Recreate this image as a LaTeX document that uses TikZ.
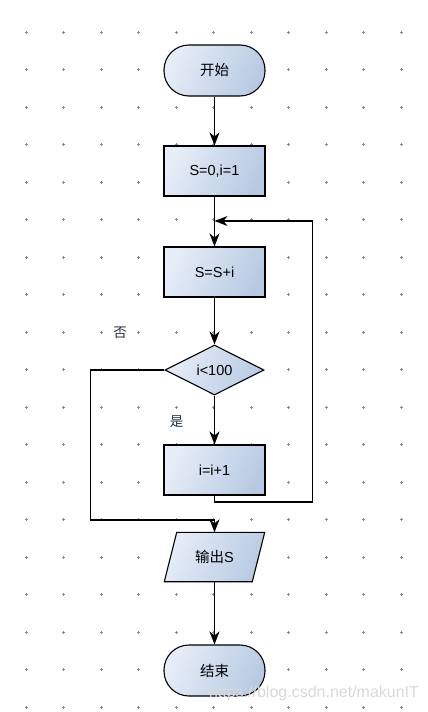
\documentclass[tikz,border=0pt]{standalone}
\usepackage{fontspec}
\setmainfont{Liberation Sans}
\newfontfamily\cjk{Noto Sans CJK SC}
\usetikzlibrary{arrows.meta,shapes.geometric}
\definecolor{gl}{HTML}{E6EDF7}
\definecolor{gd}{HTML}{B8CAE3}
\definecolor{dotc}{HTML}{8A8A8A}
\definecolor{lbl}{HTML}{203040}
\begin{document}
\begin{tikzpicture}[x=1pt,y=-1pt,
  shfill/.style={top color=gl, bottom color=gd, shading angle=65},
  procbox/.style={draw=black, line width=1.1pt, shfill, minimum width=101pt, minimum height=50pt, inner sep=0pt, font=\fontsize{14.5}{16}\selectfont},
  termbox/.style={procbox, minimum height=51pt, rounded corners=25pt},
  decbox/.style={diamond, draw=black, line width=1.1pt, shfill, aspect=2, minimum width=99pt, minimum height=50pt, inner sep=0pt, font=\fontsize{14.5}{16}\selectfont},
  ghost/.style={minimum width=100pt, minimum height=49pt, inner sep=0pt, font=\fontsize{14.5}{16}\selectfont},
  arr/.style={line width=1.1pt, -{Stealth[length=13pt,width=10pt,inset=4pt]}},
  lab/.style={text=lbl, font=\cjk\fontsize{13.5}{15}\selectfont},
  gridmark/.style={draw=dotc, line width=0.8pt}
]
\useasboundingbox (0,0) rectangle (428,712);
\fill[white] (0,0) rectangle (428,712);
% grid marks
\foreach \i in {0,...,10} {
  \foreach \j in {0,...,18} {
    \draw[gridmark] (26.3+37.5*\i-1.6, 32.3+37.5*\j) -- ++(3.2,0)
                    (26.3+37.5*\i, 32.3+37.5*\j-1.6) -- ++(0,3.2);
  }
}
% nodes
\node[termbox] (start) at (214.5,70.5) {\cjk 开始};
\node[procbox] (init) at (214.5,171) {S=0,i=1};
\node[procbox] (acc) at (214.5,272) {S=S+i};
\node[decbox] (dec) at (214.5,370) {i<100};
\node[procbox] (inc) at (214.5,470) {i=i+1};
\node[ghost] (out) at (214.5,557) {};
\shade[shfill] (out.south west) -- ++(88,0) -- (out.north east) -- ++(-88,0) -- cycle;
\draw[line width=1.1pt] (out.south west) -- ++(88,0) -- (out.north east) -- ++(-88,0) -- cycle;
\node[ghost] (outtext) at (out.center) {{\cjk 输出}S};
\node[termbox] (end) at (214.5,670.5) {\cjk 结束};
% coordinates
\coordinate (lp) at (214.5,221);
\coordinate (r1) at (312.3,502);
\coordinate (l1) at (90.7,520);
% connectors
\draw[arr] (start) -- (init);
\draw[arr] (init) -- (acc);
\draw[arr] (acc) -- (dec);
\draw[arr] (dec) -- (inc);
\draw[arr] (inc.south) |- (r1) |- (lp);
\draw[arr] (dec.west) -| (l1) -| (out.north);
\draw[arr] (out.south) -- (end.north);
% labels
\node[lab] (no) at (120,333) {否};
\node[lab] (yes) at (176.7,421.5) {是};
% watermark
\node[text=gray!30, font=\fontsize{16}{18}\selectfont] (wm) at (314,693) {https://blog.csdn.net/makunIT};
\end{tikzpicture}
\end{document}
